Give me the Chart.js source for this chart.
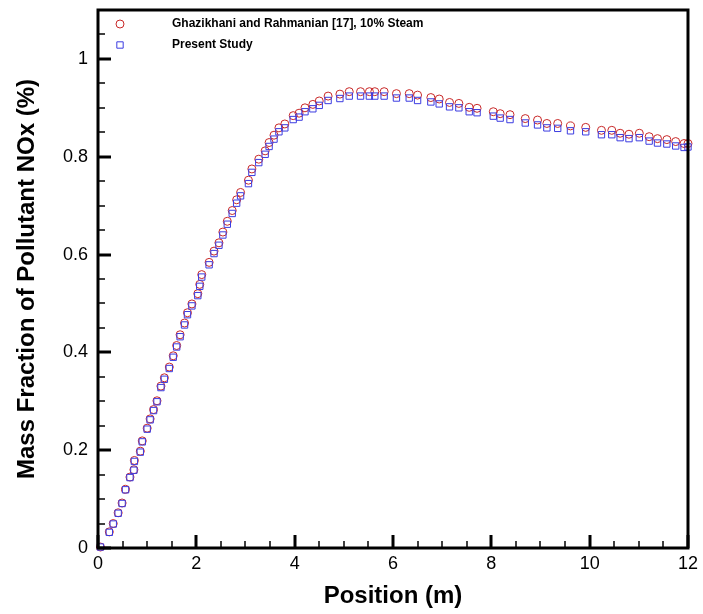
<!DOCTYPE html>
<html>
<head>
<meta charset="utf-8">
<title>NOx mass fraction</title>
<script src="https://cdn.jsdelivr.net/npm/chart.js@4.4.1/dist/chart.umd.min.js"></script>
<style>
  html, body { margin: 0; padding: 0; background: #fff; }
</style>
</head>
<body>
<canvas id="chart" width="703" height="614"></canvas>
<script>
// data
const positionX = [
  0.05, 0.23, 0.31, 0.41, 0.49, 0.56, 0.65, 0.73, 0.74, 0.86,
  0.90, 1.00, 1.06, 1.13, 1.20, 1.28, 1.35, 1.45, 1.53, 1.60,
  1.67, 1.76, 1.82, 1.91, 2.03, 2.07, 2.11, 2.26, 2.36, 2.46,
  2.54, 2.63, 2.73, 2.82, 2.90, 3.06, 3.13, 3.27, 3.40, 3.48,
  3.58, 3.68, 3.80, 3.97, 4.09, 4.21, 4.37, 4.50, 4.68, 4.92,
  5.11, 5.34, 5.52, 5.63, 5.82, 6.07, 6.33, 6.50, 6.77, 6.94,
  7.15, 7.34, 7.55, 7.71, 8.04, 8.18, 8.38, 8.69, 8.94, 9.13,
  9.35, 9.61, 9.92, 10.24, 10.45, 10.62, 10.80, 11.01, 11.21, 11.38,
  11.57, 11.75, 11.92, 12.0
];
const ghazikhaniY = [
  0.002, 0.033, 0.050, 0.072, 0.092, 0.120, 0.145, 0.160, 0.179, 0.198,
  0.219, 0.245, 0.264, 0.283, 0.301, 0.331, 0.348, 0.370, 0.393, 0.414,
  0.436, 0.460, 0.481, 0.499, 0.520, 0.539, 0.559, 0.584, 0.607, 0.624,
  0.646, 0.668, 0.690, 0.712, 0.727, 0.752, 0.775, 0.795, 0.812, 0.829,
  0.844, 0.859, 0.867, 0.884, 0.889, 0.900, 0.907, 0.914, 0.924, 0.928,
  0.933, 0.933, 0.933, 0.933, 0.933, 0.929, 0.929, 0.926, 0.921, 0.918,
  0.911, 0.909, 0.901, 0.899, 0.892, 0.888, 0.886, 0.878, 0.875, 0.868,
  0.868, 0.863, 0.860, 0.854, 0.854, 0.848, 0.846, 0.848, 0.841, 0.837,
  0.835, 0.831, 0.827, 0.827
];
const presentY = [
  0.002, 0.032, 0.049, 0.071, 0.091, 0.119, 0.144, 0.159, 0.177, 0.196,
  0.217, 0.243, 0.262, 0.281, 0.299, 0.328, 0.345, 0.367, 0.390, 0.411,
  0.432, 0.456, 0.477, 0.495, 0.516, 0.535, 0.554, 0.579, 0.602, 0.619,
  0.640, 0.662, 0.684, 0.705, 0.720, 0.745, 0.768, 0.788, 0.805, 0.821,
  0.836, 0.851, 0.859, 0.876, 0.881, 0.892, 0.898, 0.905, 0.915, 0.919,
  0.924, 0.924, 0.924, 0.924, 0.924, 0.920, 0.920, 0.915, 0.912, 0.908,
  0.902, 0.900, 0.892, 0.890, 0.883, 0.879, 0.876, 0.869, 0.865, 0.859,
  0.858, 0.853, 0.851, 0.845, 0.845, 0.839, 0.837, 0.839, 0.832, 0.828,
  0.826, 0.822, 0.819, 0.820
];
const xTicks = [0, 2, 4, 6, 8, 10, 12];
const yTicks = [0, 0.2, 0.4, 0.6, 0.8, 1];
const yTickLabels = ['0', '0.2', '0.4', '0.6', '0.8', '1'];
const seriesLabels = ['Ghazikhani and Rahmanian [17], 10% Steam', 'Present Study'];

const FONT = '"Liberation Sans", Arial, Helvetica, sans-serif';
const RED = 'rgb(200, 40, 40)';
const BLUE = 'rgb(60, 60, 225)';

const toPoints = ys => ys.map((y, i) => ({ x: positionX[i], y }));

// box frame + inward major / minor ticks
const frameTicks = {
  id: 'frameTicks',
  afterDatasetsDraw(chart) {
    const { ctx, chartArea: a, scales: { x, y } } = chart;
    ctx.save();
    ctx.strokeStyle = '#000';
    for (let i = 0; i <= 24; i++) {
      const px = Math.round(x.getPixelForValue(i * 0.5));
      const major = i % 4 === 0;
      ctx.lineWidth = major ? 3 : 1.5;
      ctx.beginPath();
      ctx.moveTo(px, a.bottom);
      ctx.lineTo(px, a.bottom - (major ? 13 : 7));
      ctx.stroke();
    }
    for (let i = 0; i <= 22; i++) {
      const py = Math.round(y.getPixelForValue(i * 0.05));
      const major = i % 4 === 0;
      ctx.lineWidth = major ? 3 : 1.5;
      ctx.beginPath();
      ctx.moveTo(a.left, py);
      ctx.lineTo(a.left + (major ? 13 : 7), py);
      ctx.stroke();
    }
    ctx.lineWidth = 3;
    ctx.strokeRect(a.left, a.top, a.right - a.left, a.bottom - a.top);
    ctx.restore();
  }
};

// legend inside the plot, top left
const insideLegend = {
  id: 'insideLegend',
  afterDraw(chart) {
    const { ctx } = chart;
    const rows = [
      { y: 24, color: RED, style: 'circle', r: 4 },
      { y: 45, color: BLUE, style: 'rect', r: 4.5 }
    ];
    ctx.save();
    rows.forEach((row, i) => {
      ctx.strokeStyle = row.color;
      ctx.fillStyle = 'rgba(0,0,0,0)';
      ctx.lineWidth = 1;
      Chart.helpers.drawPoint(ctx, { pointStyle: row.style, radius: row.r, borderWidth: 1 }, 120, row.y);
      ctx.fillStyle = '#000';
      ctx.font = 'bold 12px ' + FONT;
      ctx.textBaseline = 'middle';
      ctx.textAlign = 'left';
      ctx.fillText(seriesLabels[i], 172, row.y);
    });
    ctx.restore();
  }
};

new Chart(document.getElementById('chart'), {
  type: 'scatter',
  data: {
    datasets: [
      {
        label: seriesLabels[0],
        data: toPoints(ghazikhaniY),
        pointStyle: 'circle',
        pointRadius: 4,
        borderWidth: 1,
        borderColor: RED,
        backgroundColor: 'rgba(0,0,0,0)',
        clip: false,
        order: 2
      },
      {
        label: seriesLabels[1],
        data: toPoints(presentY),
        pointStyle: 'rect',
        pointRadius: 4.5,
        borderWidth: 1,
        borderColor: BLUE,
        backgroundColor: 'rgba(0,0,0,0)',
        clip: false,
        order: 1
      }
    ]
  },
  options: {
    responsive: false,
    animation: false,
    layout: { padding: { top: 10, right: 15, left: 0, bottom: 0 } },
    plugins: { legend: { display: false }, tooltip: { enabled: false } },
    scales: {
      x: {
        type: 'linear',
        min: 0,
        max: 12,
        afterBuildTicks: s => { s.ticks = xTicks.map(value => ({ value })); },
        afterFit: s => { s.height = 66; },
        grid: { display: false, drawTicks: false },
        border: { display: false },
        ticks: { color: '#000', padding: 5, maxRotation: 0, font: { family: FONT, size: 18 } },
        title: {
          display: true,
          text: 'Position (m)',
          color: '#000',
          font: { family: FONT, size: 24, weight: 'bold' },
          padding: { top: 0, bottom: 3 }
        }
      },
      y: {
        type: 'linear',
        min: 0,
        max: 1.1,
        afterBuildTicks: s => { s.ticks = yTicks.map(value => ({ value })); },
        afterFit: s => { s.width = 98; s.paddingTop = 0; s.paddingBottom = 0; },
        grid: { display: false, drawTicks: false },
        border: { display: false },
        ticks: {
          color: '#000',
          padding: 10,
          font: { family: FONT, size: 18 },
          callback: (value, i) => yTickLabels[i]
        },
        title: {
          display: true,
          text: 'Mass Fraction of Pollutant NOx (%)',
          color: '#000',
          font: { family: FONT, size: 24, weight: 'bold' },
          padding: { top: 13, bottom: 0 }
        }
      }
    }
  },
  plugins: [frameTicks, insideLegend]
});
</script>
</body>
</html>
